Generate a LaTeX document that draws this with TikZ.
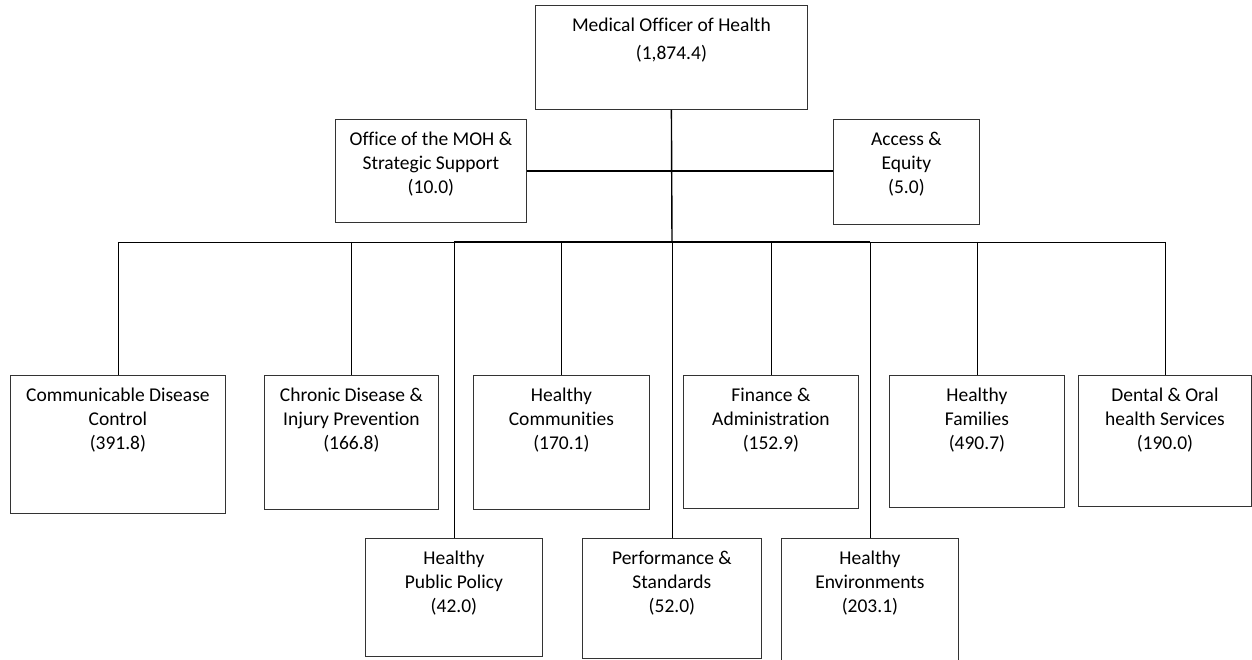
\documentclass[tikz,border=0pt]{standalone}
\usepackage{fontspec}
\setmainfont[Ligatures=NoCommon]{Carlito}
\usetikzlibrary{positioning}

\begin{document}
\begin{tikzpicture}[x=1pt, y=-1pt, font=\fontsize{19.5}{24}\selectfont]
    \tikzstyle{unit}=[draw=black!80, line width=0.8pt, anchor=north west, inner sep=0pt];
    \tikzstyle{unit text}=[anchor=north, align=center, inner sep=0pt, yshift=-13pt];
    \tikzstyle{link}=[draw=black, line width=0.8pt];
    \tikzstyle{main link}=[link, line width=1.4pt];

    \useasboundingbox (0,0) rectangle (1252,660);

    % Draw the head office box
    \node[unit, minimum width=272pt, minimum height=104pt,
      label={[unit text, font=\fontsize{19.5}{28}\selectfont]north:{Medical Officer of Health\\(1,874.4)}}]
      (moh) at (535,5) {};

    % Draw the staff boxes beside the trunk
    \node[unit, minimum width=191pt, minimum height=103pt,
      label={[unit text]north:{Office of the MOH \&\\Strategic Support\\(10.0)}}]
      (office) at (335,119) {};
    \node[unit, minimum width=146pt, minimum height=105pt,
      label={[unit text]north:{Access \&\\Equity\\(5.0)}}]
      (access) at (833,119) {};

    % Draw the service boxes
    \foreach \name / \x / \y / \w / \h / \txt in {
        cdc/10/375/215/138/{Communicable Disease\\Control\\(391.8)},
        chronic/264/375/174/134/{Chronic Disease \&\\Injury Prevention\\(166.8)},
        hcomm/473/375/176/134/{Healthy\\Communities\\(170.1)},
        finance/683/375/175/133/{Finance \&\\Administration\\(152.9)},
        families/889/375/175/132/{Healthy\\Families\\(490.7)},
        dental/1078/375/173/131/{Dental \& Oral\\health Services\\(190.0)},
        hpp/365/538/177/118/{Healthy\\Public Policy\\(42.0)},
        perf/582/538/179/120/{Performance \&\\Standards\\(52.0)},
        env/781/538/177/126/{Healthy\\Environments\\(203.1)}}
    \node[unit, minimum width=\w pt, minimum height=\h pt,
      label={[unit text]north:{\txt}}] (\name) at (\x,\y) {};

    % Trunk, staff link and bus
    \coordinate (bus) at (672,242);
    \draw[main link] (moh.south) -- (bus);
    \draw[main link] (office.east) -- (office.east -| access.west);
    \draw[link] (cdc.north |- bus) -- (dental.north |- bus);
    \draw[main link] (hpp.north |- bus) -- (env.north |- bus);

    % Drop a line from the bus to every service box
    \foreach \dest in {cdc,chronic,hcomm,finance,families,dental,hpp,perf,env}
    \draw[link] (\dest.north |- bus) -- (\dest.north);
\end{tikzpicture}
\end{document}
